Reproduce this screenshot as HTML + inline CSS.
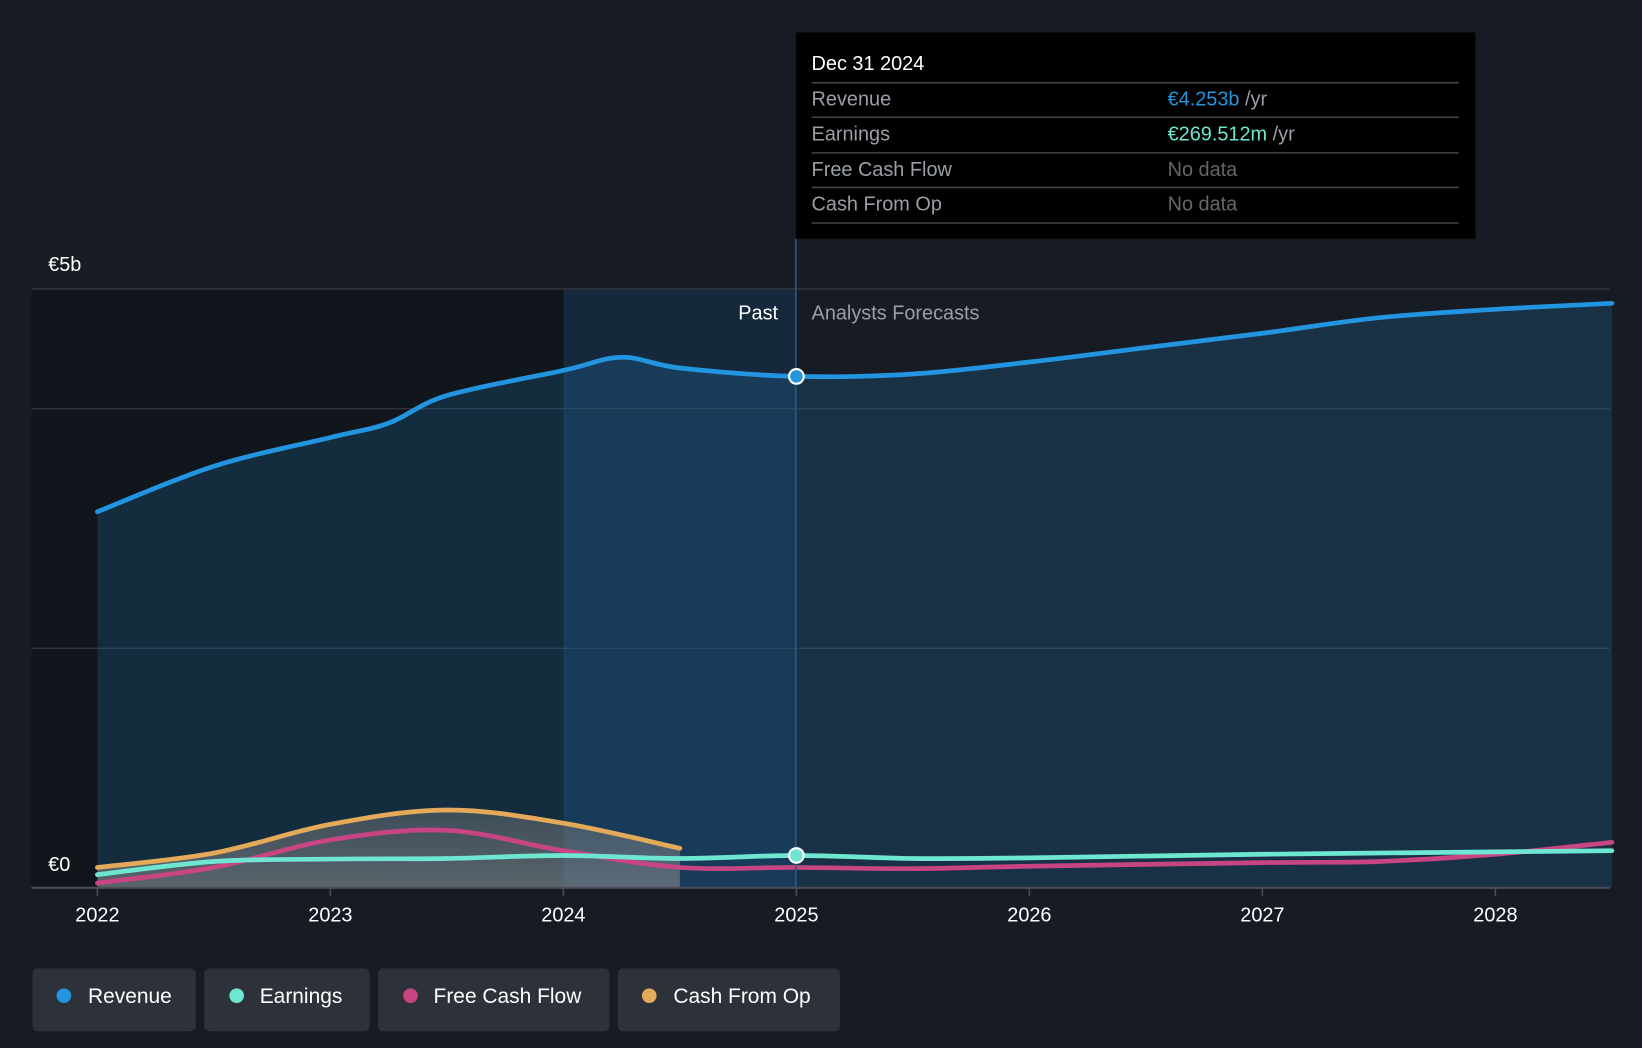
<!DOCTYPE html>
<html><head><meta charset="utf-8"><style>
html,body{margin:0;padding:0;background:#161b24;overflow:hidden}
svg{display:block;font-family:"Liberation Sans",sans-serif}
</style></head><body>
<svg id="chart" width="1642" height="1048" viewBox="0 0 1568 1001" preserveAspectRatio="none" xmlns="http://www.w3.org/2000/svg">
<defs>
<linearGradient id="gfill" x1="0" y1="0" x2="0" y2="1"><stop offset="0" stop-color="#8a8a8a" stop-opacity="0.35"/><stop offset="1" stop-color="#8a8a8a" stop-opacity="0.6"/></linearGradient>
</defs>
<rect width="1568" height="1001" fill="#161b24"/>
<rect x="30" y="276" width="508" height="572" fill="#11151c"/>
<rect x="538" y="276" width="222" height="572" fill="#15283c"/>
<g id="grid"></g>
<g id="areas"></g>
<g id="lines"></g>
<line x1="30" x2="1537" y1="848" y2="848" stroke="#4a4f57" stroke-width="2"/>
<line x1="760" x2="760" y1="228" y2="848" stroke="#2a5a85" stroke-width="1.5"/>
<g id="ticks"></g>
<text x="46" y="259" fill="#fff" font-size="19">€5b</text>
<text x="46" y="832" fill="#fff" font-size="19">€0</text>
<text x="743" y="305" fill="#fff" font-size="19" text-anchor="end">Past</text>
<text x="775" y="305" fill="#9a9ea6" font-size="19">Analysts Forecasts</text>
<g id="markers"></g>
<g>
<rect x="760" y="31" width="649" height="197" fill="#000"/>
<text x="775" y="67" fill="#fff" font-size="19">Dec 31 2024</text>
<g stroke="#444" stroke-width="1.5"><line x1="775" x2="1393" y1="79" y2="79"/><line x1="775" x2="1393" y1="112" y2="112"/><line x1="775" x2="1393" y1="146" y2="146"/><line x1="775" x2="1393" y1="179" y2="179"/><line x1="775" x2="1393" y1="213" y2="213"/></g>
<g font-size="19"><text x="775" y="101" fill="#9a9ea6">Revenue</text><text x="1115" y="101" fill="#2394df">€4.253b <tspan fill="#9a9ea6">/yr</tspan></text>
<text x="775" y="134" fill="#9a9ea6">Earnings</text><text x="1115" y="134" fill="#6ee6d2">€269.512m <tspan fill="#9a9ea6">/yr</tspan></text>
<text x="775" y="168" fill="#9a9ea6">Free Cash Flow</text><text x="1115" y="168" fill="#666">No data</text>
<text x="775" y="201" fill="#9a9ea6">Cash From Op</text><text x="1115" y="201" fill="#666">No data</text></g>
</g>
<g font-size="20" fill="#fff">
<g><rect x="31" y="925" width="156" height="60" rx="5" fill="#2c313a"/><circle cx="61" cy="951" r="7" fill="#2394df"/><text x="84" y="958" fill="#fff">Revenue</text></g>
<g><rect x="195" y="925" width="158" height="60" rx="5" fill="#2c313a"/><circle cx="226" cy="951" r="7" fill="#6ee6d2"/><text x="248" y="958" fill="#fff">Earnings</text></g>
<g><rect x="361" y="925" width="221" height="60" rx="5" fill="#2c313a"/><circle cx="392" cy="951" r="7" fill="#c84584"/><text x="414" y="958" fill="#fff">Free Cash Flow</text></g>
<g><rect x="590" y="925" width="212" height="60" rx="5" fill="#2c313a"/><circle cx="620" cy="951" r="7" fill="#e5a95a"/><text x="643" y="958" fill="#fff">Cash From Op</text></g>
</g>
</svg>
<script>
const years=[2022,2023,2024,2025,2026,2027,2028];
const gridVals=[5,4,2];
const revT=[2022,2022.5,2023,2023.25,2023.5,2024,2024.25,2024.5,2025,2025.5,2026,2026.5,2027,2027.5,2028,2028.5];
const revV=[3.14,3.52,3.76,3.88,4.11,4.32,4.43,4.34,4.27,4.29,4.39,4.51,4.63,4.76,4.83,4.88];
const earnT=[2022,2022.5,2023,2023.5,2024,2024.5,2025,2025.5,2026,2027,2028,2028.5];
const earnV=[0.11,0.22,0.24,0.245,0.27,0.245,0.27,0.245,0.25,0.28,0.30,0.31];
const fcfT=[2022,2022.5,2023,2023.5,2024,2024.5,2025,2025.5,2026,2027,2027.5,2028,2028.5];
const fcfV=[0.04,0.17,0.40,0.48,0.31,0.17,0.17,0.16,0.18,0.21,0.22,0.28,0.38];
const cfoT=[2022,2022.5,2023,2023.5,2024,2024.5];
const cfoV=[0.17,0.29,0.53,0.65,0.54,0.33];
const X=t=>93+(t-2022)*222.5;
const Y=v=>848-v*114.4;
const NS="http://www.w3.org/2000/svg";
function mk(tag,attrs,parent){const e=document.createElementNS(NS,tag);for(const k in attrs)e.setAttribute(k,attrs[k]);document.getElementById(parent).appendChild(e);return e;}
function path(T,V){const p=T.map((t,i)=>[X(t),Y(V[i])]);let d=`M${p[0][0]},${p[0][1]}`;for(let i=0;i<p.length-1;i++){const p0=p[i-1]||p[i],p1=p[i],p2=p[i+1],p3=p[i+2]||p2;d+=` C${p1[0]+(p2[0]-p0[0])/6},${p1[1]+(p2[1]-p0[1])/6} ${p2[0]-(p3[0]-p1[0])/6},${p2[1]-(p3[1]-p1[1])/6} ${p2[0]},${p2[1]}`;}return d;}
function area(T,V){return path(T,V)+` L${X(T[T.length-1])},848 L${X(T[0])},848 Z`;}
gridVals.forEach(v=>{const l=mk('line',{x1:30,x2:1537,y1:Y(v),y2:Y(v),stroke:'#3a3f47','stroke-width':1},'grid');

});
years.forEach(y=>{const l=mk('line',{x1:X(y),x2:X(y),y1:848,y2:856,stroke:'#4a4f57','stroke-width':1.5},'ticks');


const t=mk('text',{x:X(y),y:880,fill:'#fff','font-size':19,'text-anchor':'middle'},'ticks');t.textContent=y;

});
const ra=mk('path',{d:area(revT,revV),fill:'#2394df','fill-opacity':0.18},'areas');


const ca=mk('path',{d:area(cfoT,cfoV),fill:'url(#gfill)'},'areas');


const series=[[revT,revV,'#2394df','revenue-line'],[cfoT,cfoV,'#e5a95a','cash-from-op-line'],[fcfT,fcfV,'#c84584','free-cash-flow-line'],[earnT,earnV,'#6ee6d2','earnings-line']];
series.forEach(s=>{const l=mk('path',{d:path(s[0],s[1]),fill:'none',stroke:s[2],'stroke-width':4.5,'stroke-linecap':'round'},'lines');

});
const m1=mk('circle',{cx:X(2025),cy:Y(revV[8]),r:7,fill:'#2394df',stroke:'#fff','stroke-width':2},'markers');


const m2=mk('circle',{cx:X(2025),cy:Y(earnV[6]),r:7,fill:'#6ee6d2',stroke:'#fff','stroke-width':2},'markers');


</script>
</body></html>
